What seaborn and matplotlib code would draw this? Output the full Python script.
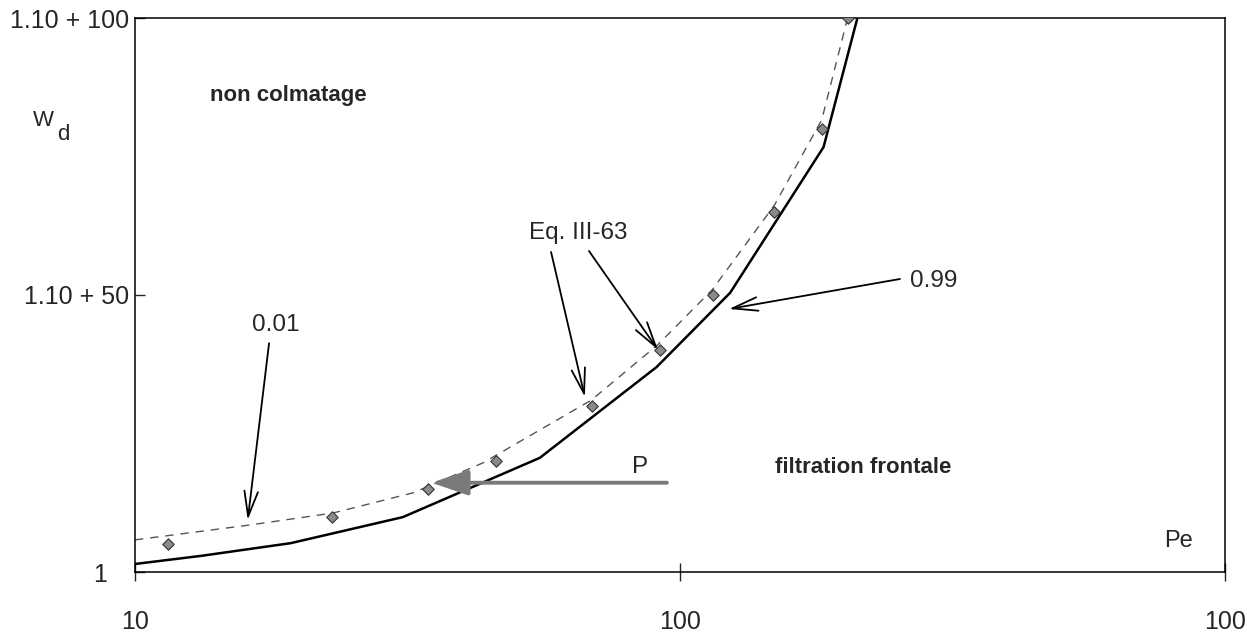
import matplotlib
matplotlib.use("Agg")
import matplotlib.pyplot as plt
import matplotlib.ticker as mticker
import seaborn as sns
import pandas as pd

# Eq. III-63 points (diamonds)
pe_eq = [11.5, 23, 34.5, 46, 69, 92, 115, 149, 182, 203]
wd_eq = [1e5, 1e10, 1e15, 1e20, 1e30, 1e40, 1e50, 1e65, 1e80, 1e100]

# curve 0.01 (dashed)
pe_001 = [10, 16.3, 23.1, 32.4, 43.5, 68.7, 91, 114.5, 149, 182, 203]
wd_001 = [6.3e5, 3.2e8, 4.5e10, 2.0e14, 5.0e19, 1e31, 1e41, 8e50, 1.6e66, 4e81, 1e100]

# curve 0.99 (solid)
pe_099 = [10, 13.2, 19.3, 31, 55.3, 90.6, 123.6, 183.4, 211.6]
wd_099 = [2.8e1, 8e2, 1.6e5, 8e9, 4e20, 1e37, 2.5e50, 5e76, 1e100]

x_ticks = [10, 100, 1000]
x_labels = ["10", "100", "100"]
y_ticks = [1, 1e50, 1e100]
y_labels = ["1", "1.10 + 50", "1.10 + 100"]

df_eq = pd.DataFrame({"Pe": pe_eq, "Wd": wd_eq})
df_001 = pd.DataFrame({"Pe": pe_001, "Wd": wd_001})
df_099 = pd.DataFrame({"Pe": pe_099, "Wd": wd_099})

sns.set_style("white")
plt.rcParams["font.family"] = ["Liberation Sans", "DejaVu Sans"]

fig, ax = plt.subplots(figsize=(12.47, 6.36), dpi=100)
fig.subplots_adjust(left=135 / 1247, right=1225 / 1247, bottom=64 / 636, top=1 - 18 / 636)

ax.set_xscale("log")
ax.set_yscale("log")

sns.lineplot(data=df_001, x="Pe", y="Wd", ax=ax, color="#555555", lw=1.0,
             linestyle=(0, (6, 5)), sort=False, estimator=None)
sns.lineplot(data=df_099, x="Pe", y="Wd", ax=ax, color="black", lw=1.8,
             sort=False, estimator=None)
sns.scatterplot(data=df_eq, x="Pe", y="Wd", ax=ax, marker="D", s=34,
                color="#8a8a8a", edgecolor="#333333", linewidth=0.8, zorder=5)

ax.set_xlim(10, 1000)
ax.set_ylim(1, 1e100)
ax.set_xlabel("")
ax.set_ylabel("")

ax.set_xticks(x_ticks, labels=x_labels)
ax.xaxis.set_minor_locator(mticker.LogLocator(base=10, subs=range(2, 10), numticks=20))
ax.xaxis.set_minor_formatter(mticker.NullFormatter())
ax.set_yticks(y_ticks, labels=y_labels)
ax.yaxis.set_minor_locator(mticker.NullLocator())

ax.tick_params(axis="x", which="major", direction="inout", length=13, width=1, pad=21, labelsize=18)
ax.tick_params(axis="x", which="minor", direction="out", length=4.5, width=1)
ax.tick_params(axis="y", which="major", direction="in", length=7, width=1, pad=4, labelsize=18)
ax.tick_params(left=True, bottom=True)
ax.yaxis.get_major_ticks()[0].set_pad(20)

for sp in ax.spines.values():
    sp.set_visible(True)
    sp.set_color("black")
    sp.set_linewidth(1.1)

# text labels
ax.text(0.0688, 0.861, "non colmatage", transform=ax.transAxes, fontsize=16,
        fontweight="bold", va="center", ha="left")
ax.text(0.587, 0.1895, "filtration frontale", transform=ax.transAxes, fontsize=16,
        fontweight="bold", va="center", ha="left")
ax.text(0.957, 0.056, "Pe", transform=ax.transAxes, fontsize=17, va="center", ha="center")
fig.text(43 / 1247, 1 - 121 / 636, "W", fontsize=16, va="center", ha="center")
fig.text(63 / 1247, 1 - 134 / 636, "d", fontsize=16, va="center", ha="center")

arrow_kw = dict(arrowstyle="->,head_length=1.3,head_width=0.35", color="black",
                lw=1.3, mutation_scale=14, shrinkA=0, shrinkB=0)

ax.text(0.129, 0.446, "0.01", transform=ax.transAxes, fontsize=17.5, va="center", ha="center")
ax.annotate("", xy=(16.1, 2.5e9), xycoords="data", xytext=(0.123, 0.413),
            textcoords="axes fraction", arrowprops=arrow_kw)

ax.text(0.4064, 0.6119, "Eq. III-63", transform=ax.transAxes, fontsize=17.5, va="center", ha="center")
ax.annotate("", xy=(66.9, 4e31), xycoords="data", xytext=(0.3817, 0.5776),
            textcoords="axes fraction", arrowprops=arrow_kw)
ax.annotate("", xy=(91.1, 1.3e40), xycoords="data", xytext=(0.4165, 0.5794),
            textcoords="axes fraction", arrowprops=arrow_kw)

ax.text(0.711, 0.525, "0.99", transform=ax.transAxes, fontsize=17.5, va="center", ha="left")
ax.annotate("", xy=(123.0, 3e47), xycoords="data", xytext=(0.7018, 0.5289),
            textcoords="axes fraction", arrowprops=arrow_kw)

ax.text(0.463, 0.1895, "P", transform=ax.transAxes, fontsize=17.5, va="center", ha="center")
ax.annotate("", xy=(35.0, 1.3e16), xycoords="data", xytext=(94.6, 1.3e16),
            textcoords="data",
            arrowprops=dict(arrowstyle="-|>,head_length=1.6,head_width=0.55",
                            color="#7a7a7a", lw=2.8, mutation_scale=14,
                            shrinkA=0, shrinkB=0))

fig.savefig("out.png", dpi=100)
